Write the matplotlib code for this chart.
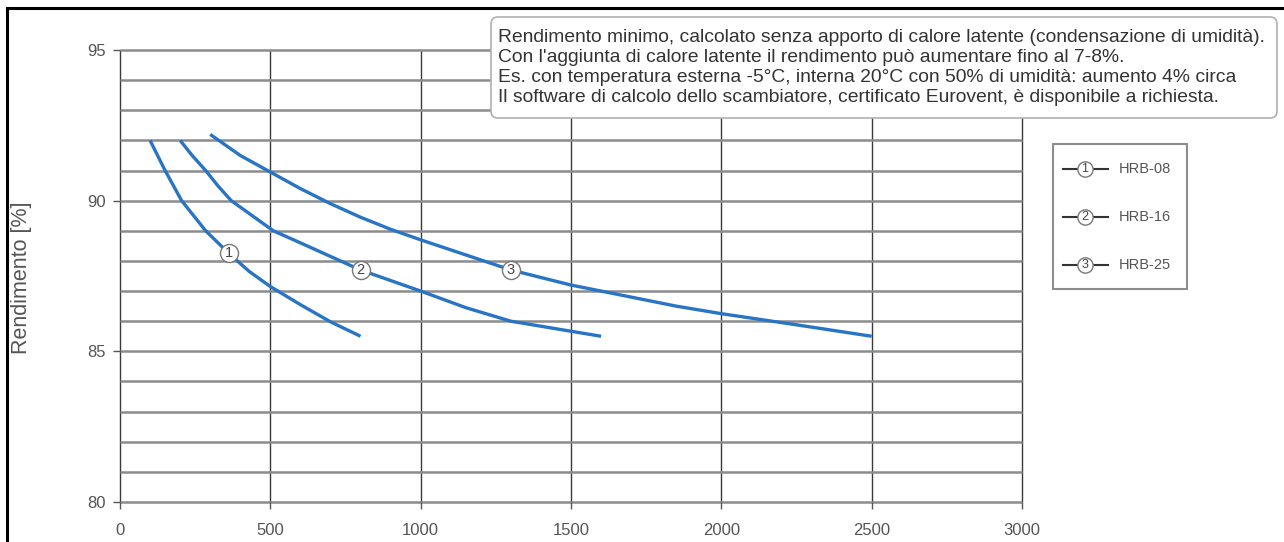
import matplotlib
matplotlib.use("Agg")
import matplotlib.pyplot as plt
from matplotlib.lines import Line2D
from matplotlib.patches import FancyBboxPatch, Rectangle
import numpy as np

plt.rcParams["font.family"] = ["Liberation Sans", "DejaVu Sans"]

# Dati (portata vs rendimento)
PORTATA_08 = [100, 150, 205, 285, 362, 430, 500, 600, 700, 800]
REND_08 = [92.0, 91.0, 90.0, 89.0, 88.25, 87.65, 87.15, 86.55, 85.98, 85.5]

PORTATA_16 = [200, 240, 285, 325, 370, 440, 510, 600, 700, 800, 900, 1000, 1150, 1300, 1450, 1600]
REND_16 = [92.0, 91.5, 91.0, 90.5, 90.0, 89.5, 89.0, 88.6, 88.15, 87.7, 87.35, 87.0, 86.45, 86.0, 85.75, 85.5]

PORTATA_25 = [300, 400, 500, 600, 700, 800, 900, 1000, 1150, 1300, 1500, 1700, 1850, 2000, 2250, 2500]
REND_25 = [92.2, 91.5, 90.95, 90.4, 89.9, 89.45, 89.05, 88.7, 88.2, 87.7, 87.2, 86.8, 86.5, 86.25, 85.88, 85.5]

# posizione delle etichette numerate sulle curve
LABEL_X = [362, 800, 1300]
LABEL_Y = [88.25, 87.7, 87.7]
LABEL_NUM = ["1", "2", "3"]
LEGEND_LABELS = ["HRB-08", "HRB-16", "HRB-25"]

X_TICKS = [0, 500, 1000, 1500, 2000, 2500, 3000]
Y_TICKS = [80, 85, 90, 95]
Y_GRID = np.arange(80, 96, 1)

NOTE_LINES = [
    "Rendimento minimo, calcolato senza apporto di calore latente (condensazione di umidità).",
    "Con l'aggiunta di calore latente il rendimento può aumentare fino al 7-8%.",
    "Es. con temperatura esterna -5°C, interna 20°C con 50% di umidità: aumento 4% circa",
    "Il software di calcolo dello scambiatore, certificato Eurovent, è disponibile a richiesta.",
]

BLUE = "#2874c5"
TXT = "#555555"
W, H = 1284, 542

fig = plt.figure(figsize=(W / 100, H / 100), dpi=100)
ax = fig.add_axes([120 / W, 1 - 502 / H, (1022 - 120) / W, (502 - 50) / H])
ax.set_xlim(0, 3000)
ax.set_ylim(80, 95)
for s in ax.spines.values():
    s.set_visible(False)

# griglia
ax.vlines(X_TICKS, 80, 95, colors="#3a3a3a", lw=1.0, clip_on=False, zorder=1)
ax.hlines(Y_GRID, 0, 3000, colors="#8c8c8c", lw=1.8, clip_on=False, zorder=1)

ax.set_xticks(X_TICKS)
ax.set_yticks(Y_TICKS)
ax.tick_params(axis="x", length=5, width=1, color="#555555", pad=10, labelsize=12, labelcolor=TXT)
ax.tick_params(axis="y", length=5, width=1, color="#555555", pad=5, labelsize=12, labelcolor=TXT)

for px, py in [(PORTATA_08, REND_08), (PORTATA_16, REND_16), (PORTATA_25, REND_25)]:
    ax.plot(px, py, color=BLUE, lw=2.4, solid_capstyle="butt", solid_joinstyle="round", zorder=3)

ax.plot(LABEL_X, LABEL_Y, "o", ms=13, mfc="white", mec="#777777", mew=1.0, zorder=4)
for lx, ly, n in zip(LABEL_X, LABEL_Y, LABEL_NUM):
    ax.text(lx, ly, n, ha="center", va="center", fontsize=10.5, color="#444444", zorder=5)

fig.text(22 / W, 1 - 278 / H, "Rendimento [%]", rotation=90, ha="center", va="center",
         fontsize=15.5, color=TXT)

# riquadro note
note = FancyBboxPatch((491 / 100, (H - 118) / 100), (1277 - 491) / 100, (118 - 17) / 100,
                      boxstyle="round,pad=0,rounding_size=0.07", transform=fig.dpi_scale_trans,
                      fc="white", ec="#b0b0b0", lw=1.2, zorder=10)
fig.add_artist(note)
for i, line in enumerate(NOTE_LINES):
    fig.text(498 / W, 1 - (38 + 20 * i) / H, line, ha="left", va="center",
             fontsize=13.9, color="#333333", zorder=11)

# legenda
leg = Rectangle((1053 / W, 1 - 289 / H), (1187 - 1053) / W, (289 - 144) / H,
                transform=fig.transFigure, fc="white", ec="#8c8c8c", lw=1.5)
fig.add_artist(leg)
for i, (n, lab) in enumerate(zip(LABEL_NUM, LEGEND_LABELS)):
    yy = 1 - (169 + 48 * i) / H
    fig.add_artist(Line2D([1063 / W, 1108 / W], [yy, yy], color="#333333", lw=1.5))
    fig.add_artist(Line2D([1085 / W], [yy], marker="o", ms=11, mfc="white", mec="#777777", mew=1.0))
    fig.text(1085 / W, yy, n, ha="center", va="center", fontsize=9, color="#444444")
    fig.text(1119 / W, yy, lab, ha="left", va="center", fontsize=10.5, color=TXT)

# bordo esterno
fig.add_artist(Line2D([7 / W, 1], [1 - 8 / H, 1 - 8 / H], color="black", lw=2.2))
fig.add_artist(Line2D([7 / W, 7 / W], [0, 1 - 8 / H], color="black", lw=2.2))

fig.savefig("out.png", dpi=100)
